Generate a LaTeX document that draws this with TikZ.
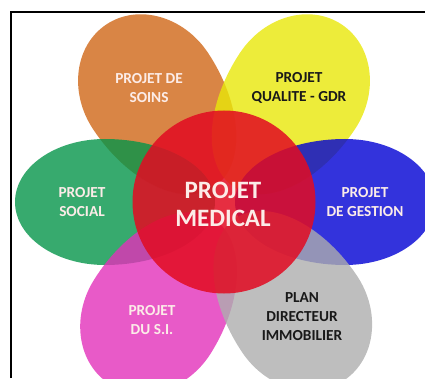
\documentclass[tikz,border=0pt]{standalone}
\usepackage{fontspec}
\setmainfont{Carlito}
\definecolor{cOrange}{RGB}{208,103,23}
\definecolor{cYellow}{RGB}{233,231,9}
\definecolor{cGreen}{RGB}{5,149,74}
\definecolor{cBlue}{RGB}{0,0,211}
\definecolor{cPink}{RGB}{226,49,186}
\definecolor{cGray}{RGB}{174,174,174}
\definecolor{cRed}{RGB}{226,12,34}
\definecolor{cLight}{RGB}{252,236,232}
\definecolor{cDark}{RGB}{25,25,25}
\newcommand\mypetal[6]{%
  \begin{scope}[shift={(224,176)},rotate=#1]
    \fill[#6,petalfill] (#2,-#5) arc[start angle=-90,end angle=90,x radius=#3,y radius=#5]
      arc[start angle=90,end angle=270,x radius=#4,y radius=#5] -- cycle;
  \end{scope}}
\begin{document}
\begin{tikzpicture}[x=1pt,y=1pt,
  petalfill/.style={fill opacity=0.8},
  petaltext/.style={font=\bfseries\fontsize{15.3}{19}\selectfont,align=center,text=cLight,inner sep=0pt},
  darktext/.style={petaltext,text=cDark},
  centertext/.style={font=\bfseries\fontsize{25}{28}\selectfont,align=center,text=cLight,inner sep=0pt},
  frameline/.style={line width=1.5pt,black}]
\useasboundingbox (0,0) rectangle (425,378);
% petals: angle, D, aout, ain, b, colour
\mypetal{123.5}{133}{80}{115}{69}{cOrange}
\mypetal{56.5}{133}{80}{115}{69}{cYellow}
\mypetal{0}{121}{90}{110}{63}{cBlue}
\mypetal{180}{119}{90}{110}{63}{cGreen}
\mypetal{238}{135}{80}{115}{69}{cPink}
\mypetal{304}{135}{80}{115}{69}{cGray}
% centre disc
\fill[cRed,fill opacity=0.86] (224,176) circle[radius=91.5];
% texts
\node[petaltext] (soins) at (149,290) {PROJET DE\\SOINS};
\node[darktext] (qualite) at (299,290) {PROJET\\QUALITE - GDR};
\node[petaltext] (social) at (82,176) {PROJET\\SOCIAL};
\node[petaltext] (gestion) at (365,176) {PROJET\\DE GESTION};
\node[centertext] (medical) at (223,173.5) {PROJET\\MEDICAL};
\node[petaltext] (si) at (152,58) {PROJET\\DU S.I.};
\node[darktext] (immo) at (302,61) {PLAN\\DIRECTEUR\\IMMOBILIER};
% frame
\draw[frameline] (11,0) -- (11,366) -- (425,366);
\end{tikzpicture}
\end{document}
